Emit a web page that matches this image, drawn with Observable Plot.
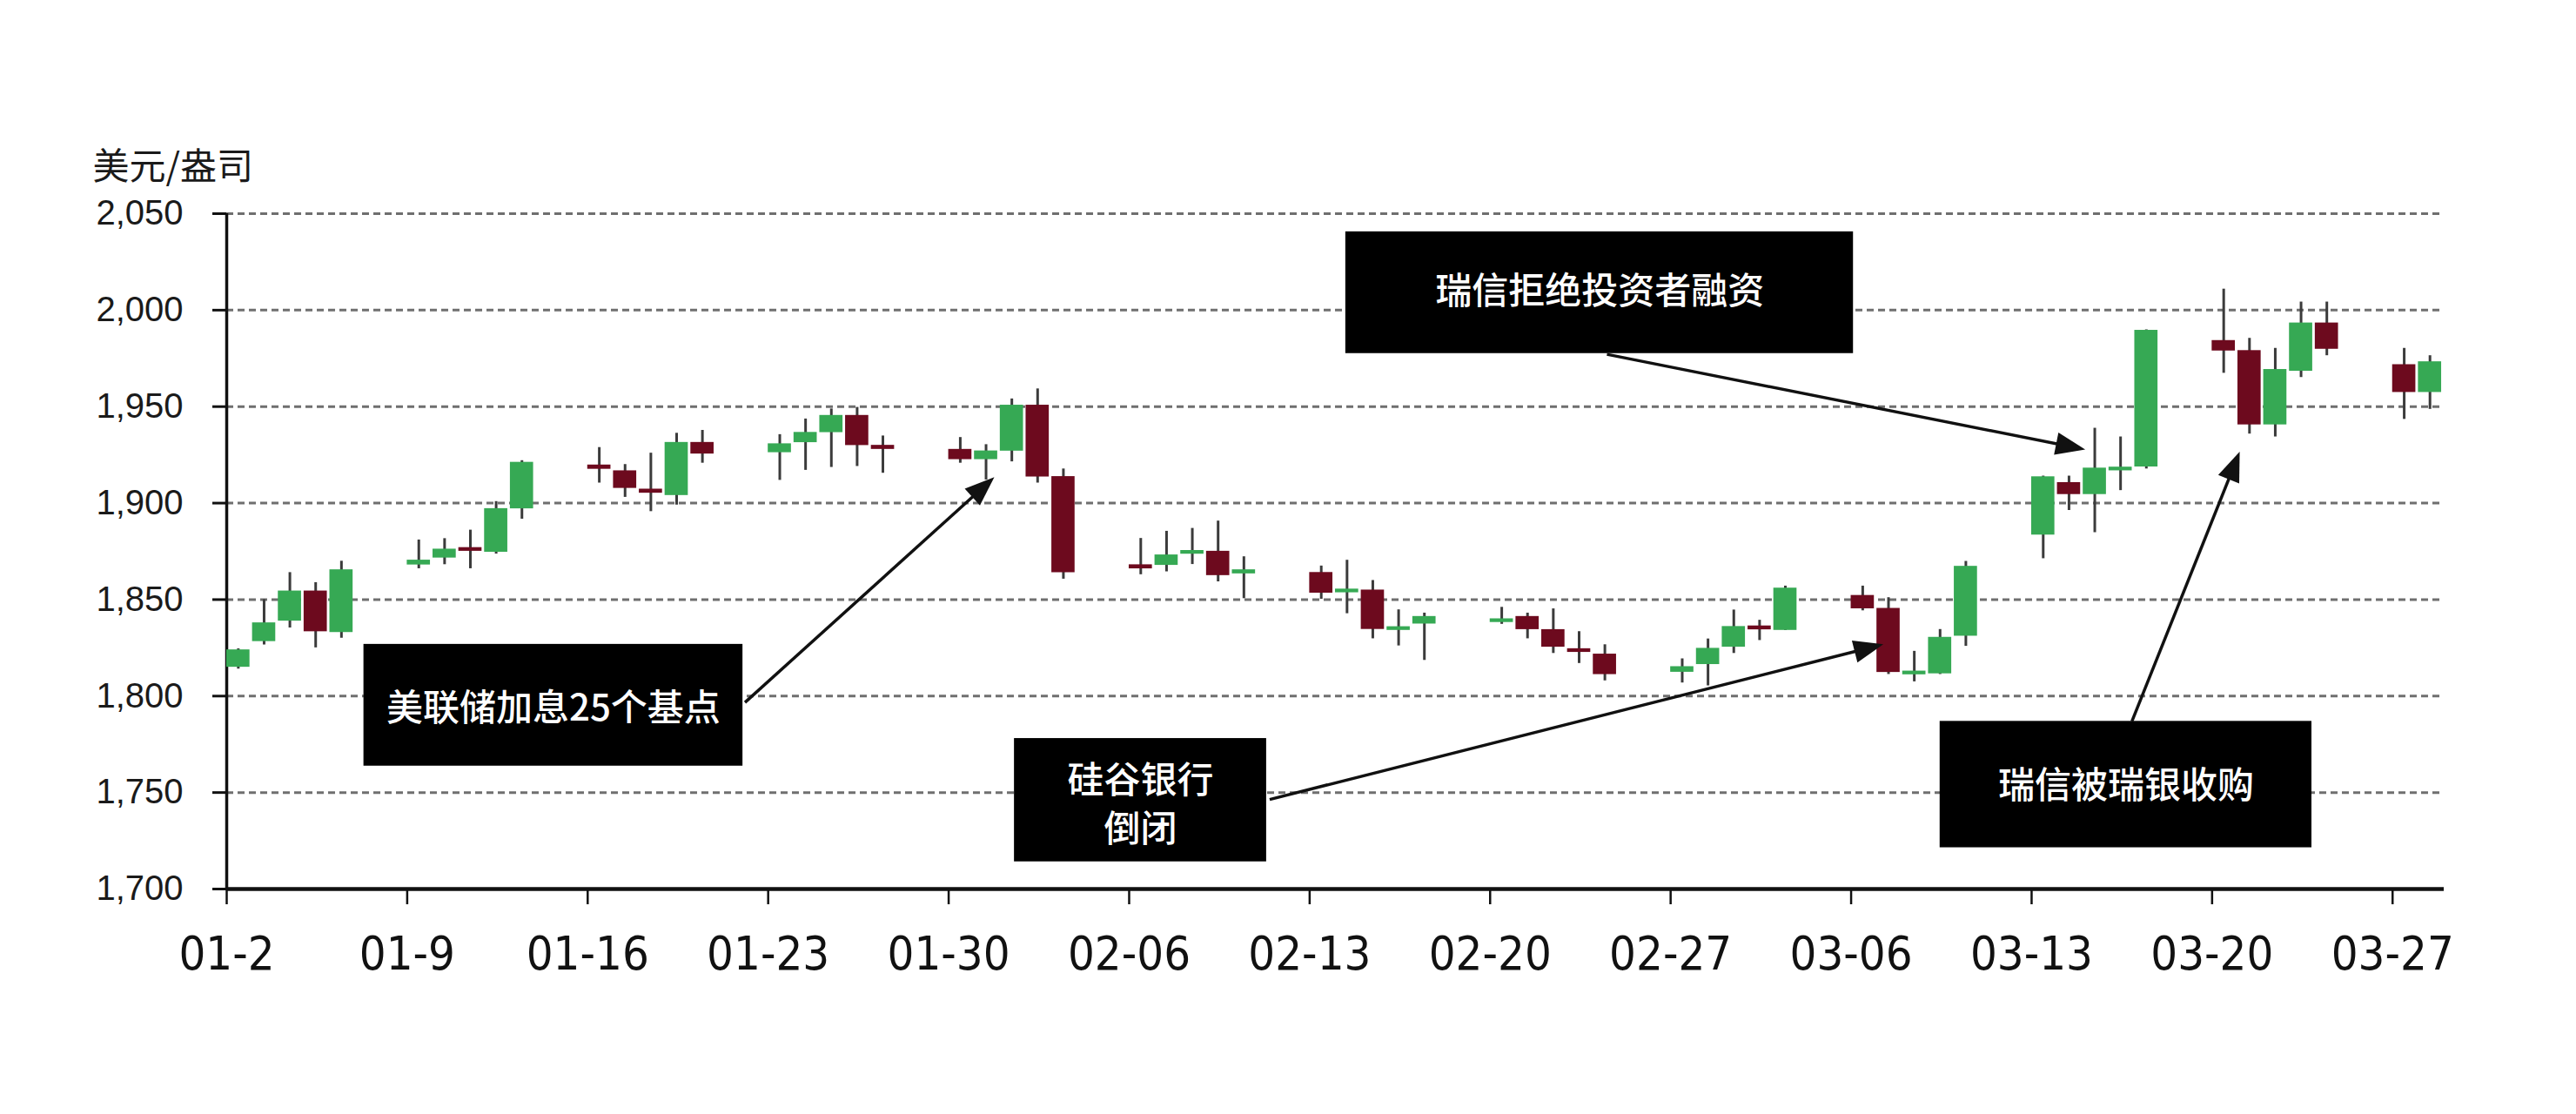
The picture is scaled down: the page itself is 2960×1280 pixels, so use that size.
<!DOCTYPE html>
<html><head><meta charset="utf-8">
<script src="https://cdn.jsdelivr.net/npm/d3@7"></script>
<script src="https://cdn.jsdelivr.net/npm/@observablehq/plot@0.6"></script>
<style>
html,body{margin:0;padding:0;background:#fff;}
#chart svg{display:block;}
</style></head><body><div id="chart"></div>
<script>
// ---- data ----
const dates = [
  "2023-01-02","2023-01-03","2023-01-04","2023-01-05","2023-01-06",
  "2023-01-09","2023-01-10","2023-01-11","2023-01-12","2023-01-13",
  "2023-01-16","2023-01-17","2023-01-18","2023-01-19","2023-01-20",
  "2023-01-23","2023-01-24","2023-01-25","2023-01-26","2023-01-27",
  "2023-01-30","2023-01-31","2023-02-01","2023-02-02","2023-02-03",
  "2023-02-06","2023-02-07","2023-02-08","2023-02-09","2023-02-10",
  "2023-02-13","2023-02-14","2023-02-15","2023-02-16","2023-02-17",
  "2023-02-20","2023-02-21","2023-02-22","2023-02-23","2023-02-24",
  "2023-02-27","2023-02-28","2023-03-01","2023-03-02","2023-03-03",
  "2023-03-06","2023-03-07","2023-03-08","2023-03-09","2023-03-10",
  "2023-03-13","2023-03-14","2023-03-15","2023-03-16","2023-03-17",
  "2023-03-20","2023-03-21","2023-03-22","2023-03-23","2023-03-24",
  "2023-03-27","2023-03-28"
];
const opens = [
  1815.4,1828.7,1839.3,1854.0,1833.4,
  1868.4,1872.0,1876.5,1875.0,1897.5,
  1919.3,1916.3,1906.8,1904.4,1931.0,
  1926.6,1931.8,1937.0,1945.0,1929.5,
  1927.4,1923.0,1927.4,1950.3,1913.3,
  1867.6,1868.2,1874.0,1874.6,1863.8,
  1863.6,1854.0,1854.5,1834.5,1837.8,
  1838.6,1840.8,1834.0,1824.1,1821.3,
  1812.8,1816.8,1825.8,1835.9,1834.5,
  1851.7,1845.0,1811.5,1812.0,1831.5,
  1883.9,1910.2,1904.9,1917.2,1919.2,
  1983.8,1978.6,1941.0,1968.8,1992.9,
  1971.3,1957.8
];
const closes = [
  1823.5,1837.5,1854.0,1833.8,1865.0,
  1870.0,1875.7,1875.5,1896.7,1920.7,
  1918.0,1908.1,1905.6,1931.0,1925.9,
  1930.3,1936.2,1945.0,1930.3,1928.3,
  1923.0,1926.6,1950.3,1914.0,1864.4,
  1866.4,1872.7,1875.0,1862.9,1865.0,
  1853.8,1855.0,1835.0,1835.5,1840.8,
  1839.6,1834.9,1825.8,1823.1,1811.6,
  1814.8,1824.3,1835.6,1834.8,1855.5,
  1845.7,1812.7,1812.5,1830.0,1866.8,
  1913.2,1904.9,1917.7,1918.2,1989.1,
  1979.3,1941.0,1968.8,1992.9,1980.2,
  1957.8,1972.8
];
const highs = [
  1824.5,1850.0,1864.0,1858.8,1869.9,
  1880.9,1881.6,1886.0,1900.8,1922.0,
  1928.8,1920.0,1925.9,1936.2,1937.7,
  1935.5,1943.6,1948.8,1949.6,1934.8,
  1934.0,1930.3,1954.0,1959.2,1917.7,
  1881.7,1885.4,1886.9,1890.7,1872.2,
  1867.4,1870.4,1859.9,1844.7,1843.0,
  1846.0,1843.0,1845.2,1833.4,1826.6,
  1819.3,1829.6,1844.6,1839.3,1857.0,
  1857.0,1851.0,1823.2,1834.5,1869.8,
  1914.0,1914.0,1938.8,1934.3,1989.8,
  2010.9,1985.4,1980.2,2004.2,2004.2,
  1980.2,1976.4
];
const lows = [
  1814.0,1826.5,1835.3,1825.0,1830.0,
  1866.0,1868.1,1866.0,1873.6,1891.7,
  1910.4,1903.0,1895.6,1899.0,1920.7,
  1911.8,1917.0,1918.5,1919.0,1915.5,
  1920.7,1912.0,1921.4,1910.4,1860.6,
  1862.9,1864.4,1868.2,1859.2,1850.5,
  1850.2,1842.7,1829.7,1826.0,1818.5,
  1837.2,1829.7,1822.1,1816.9,1807.9,
  1806.8,1805.3,1822.1,1828.8,1834.0,
  1844.2,1811.2,1807.4,1811.2,1825.8,
  1871.2,1896.2,1884.7,1906.5,1917.7,
  1967.3,1935.8,1934.3,1965.1,1976.4,
  1943.4,1948.6
];
const xTickDates = ["2023-01-02","2023-01-09","2023-01-16","2023-01-23","2023-01-30","2023-02-06",
  "2023-02-13","2023-02-20","2023-02-27","2023-03-06","2023-03-13","2023-03-20","2023-03-27"];
const xTickLabels = ["01-2","01-9","01-16","01-23","01-30","02-06","02-13","02-20","02-27","03-06","03-13","03-20","03-27"];
const yTicks = [1700,1750,1800,1850,1900,1950,2000,2050];
const gridValues = [1750,1800,1850,1900,1950,2000,2050];
const yLabel = "美元/盎司";

// annotations (day offsets from 01-2, price values)
const noteBoxDays = [[5.32,20.02],[30.55,40.33],[43.40,63.09],[66.45,80.87]];
const noteBoxVals = [[1763.7,1826.8],[1714.1,1778.0],[1977.5,2040.6],[1721.4,1786.9]];
const noteTextLines = ["美联储加息25个基点","硅谷银行","倒闭","瑞信拒绝投资者融资","瑞信被瑞银收购"];
const noteTextDays = [12.67,35.44,35.44,53.25,73.66];
const noteTextVals = [1793.5,1756.0,1730.5,2009.3,1753.4];
const arrowFrom = [[20.1,1796.7],[40.45,1746.4],[53.53,1977.1],[73.89,1786.9]];
const arrowTo = [[29.77,1913.4],[64.25,1826.8],[72.08,1927.8],[78.07,1926.6]];

// ---- layout ----
const DAY = 864e5;
const start = new Date("2023-01-02");
const end = new Date("2023-03-29");
const W = 2960, H = 1280, mL = 260, mR = 152, mT = 245, mB = 259;
const kx = (W - mL - mR) / ((end - start) / DAY);
const ky = (H - mT - mB) / (2050 - 1700);
const at = n => new Date(+start + n * DAY);
const GREEN = "#36a954", MAROON = "#6d0a1e";

const candles = dates.map((d, i) => ({date: new Date(d), open: opens[i], close: closes[i], high: highs[i], low: lows[i]}));
const labelMap = new Map(xTickDates.map((d, i) => [+new Date(d), xTickLabels[i]]));

const boxes = noteBoxDays.map((b, i) => ({x1: at(b[0]), x2: at(b[1]), y1: noteBoxVals[i][0], y2: noteBoxVals[i][1]}));
const noteTexts = noteTextLines.map((t, i) => ({text: t, x: at(noteTextDays[i]), y: noteTextVals[i]}));
const arrows = arrowFrom.map((f, i) => {
  const t = arrowTo[i];
  const dxp = (t[0] - f[0]) * kx, dyp = (t[1] - f[1]) * ky;
  const len = Math.hypot(dxp, dyp);
  const frac = 14 / len;
  return {
    x1: at(f[0]), y1: f[1],
    x2: at(t[0] - (t[0] - f[0]) * frac), y2: t[1] - (t[1] - f[1]) * frac,
    tx: at(t[0]), ty: t[1],
    rot: Math.atan2(dxp, dyp) * 180 / Math.PI
  };
});
const headSymbol = {draw(ctx) { ctx.moveTo(0, 0); ctx.lineTo(-13, 34); ctx.lineTo(13, 34); ctx.closePath(); }};

const numFont = "'Liberation Sans', Arial, sans-serif";
const narrowFont = "'Liberation Sans Narrow', 'DejaVu Sans Condensed', 'Arial Narrow', sans-serif";
const cjkFont = "'Noto Sans CJK SC', sans-serif";

const plot = Plot.plot({
  width: W, height: H,
  marginLeft: mL, marginRight: mR, marginTop: mT, marginBottom: mB,
  style: {background: "white", fontFamily: numFont, overflow: "visible"},
  x: {type: "utc", domain: [start, end]},
  y: {domain: [1700, 2050]},
  marks: [
    Plot.ruleY(gridValues, {stroke: "#6f6f6f", strokeWidth: 3, strokeDasharray: "8,5"}),
    Plot.axisY({ticks: yTicks, tickSize: 16, tickPadding: 34, fontSize: 40, strokeWidth: 3, stroke: "#111", fill: "#1a1a1a",
      fontFamily: numFont, tickFormat: d3.format(",")}),
    Plot.axisX({ticks: xTickDates.map(d => new Date(d)), tickFormat: d => labelMap.get(+d), tickSize: 18, tickPadding: 36,
      fontSize: 54, strokeWidth: 2.5, stroke: "#111", fill: "#111", fontFamily: narrowFont}),
    Plot.ruleX([start], {y1: 1700, y2: 2050, stroke: "#111", strokeWidth: 3.5}),
    Plot.ruleY([1700], {stroke: "#111", strokeWidth: 4.5}),
    Plot.ruleX(candles, {x: d => new Date(+d.date + 0.45 * DAY), y1: "low", y2: "high", stroke: "#3b3b3b", strokeWidth: 3}),
    Plot.rect(candles, {x1: d => new Date(+d.date), x2: d => new Date(+d.date + 0.9 * DAY),
      y1: "open", y2: "close", insetTop: -1, insetBottom: -1,
      fill: d => d.close >= d.open ? GREEN : MAROON}),
    Plot.rect(boxes, {x1: "x1", x2: "x2", y1: "y1", y2: "y2", fill: "black"}),
    Plot.text(noteTexts, {x: "x", y: "y", text: "text", fill: "white", fontSize: 42, fontWeight: 500, fontFamily: cjkFont}),
    Plot.link(arrows, {x1: "x1", y1: "y1", x2: "x2", y2: "y2", stroke: "#111", strokeWidth: 3.5}),
    Plot.dot(arrows, {x: "tx", y: "ty", r: 5, symbol: headSymbol, rotate: "rot", fill: "#111", stroke: "none"}),
    Plot.text([yLabel], {frameAnchor: "top-left", dx: -154, dy: -69, textAnchor: "start", fontSize: 42, fill: "#1a1a1a", fontFamily: cjkFont})
  ],
  color: {type: "identity"}
});
document.getElementById("chart").appendChild(plot);
</script></body></html>
